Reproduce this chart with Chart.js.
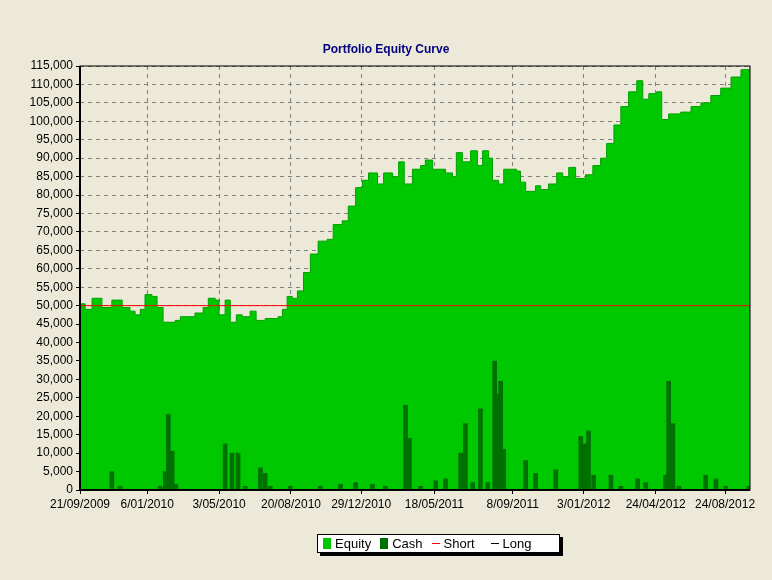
<!DOCTYPE html>
<html><head><meta charset="utf-8">
<script src="https://cdn.jsdelivr.net/npm/chart.js@4"></script>
<style>
body{margin:0;background:#ECE9D8;font-family:"Liberation Sans",Arial,sans-serif;}
#wrap{position:relative;width:772px;height:580px;}
#title{position:absolute;left:0;width:772px;top:42px;text-align:center;color:#000080;font-weight:bold;font-size:12px;}
#legend{position:absolute;left:317px;top:534px;width:241px;height:17px;border:1px solid #000;background:#fff;box-shadow:3px 3px 0 #000;font-size:13px;display:flex;align-items:center;gap:0;}
#legend span{display:inline-flex;align-items:center;margin-left:5px;}
.sw{display:inline-block;width:8px;height:11px;margin-right:4px;}
.ln{display:inline-block;width:8px;height:1px;margin-right:4px;}
</style></head><body>
<div id="wrap"><div id="title">Portfolio Equity Curve</div>
<canvas id="c" width="772" height="580"></canvas>
<div id="legend"><span><i class="sw" style="background:#00C800"></i>Equity</span><span style="margin-left:9px"><i class="sw" style="background:#007000"></i>Cash</span><span style="margin-left:9px"><i class="ln" style="background:#ff0000"></i>Short</span><span style="margin-left:16px"><i class="ln" style="background:#000"></i>Long</span></div>
</div>
<script>
const tickWeeks=[0,15.6,32.3,49,65.3,82.3,100.5,117,133.7,149.8];
const tickLabels=["21/09/2009","6/01/2010","3/05/2010","20/08/2010","29/12/2010","18/05/2011","8/09/2011","3/01/2012","24/04/2012","24/08/2012"];
const eqWeeks=[0,1.2,2.8,4.2,5.1,6.5,7.4,8.8,9.8,11.6,12.8,14,15.1,16.7,17.9,19.3,22.1,23.3,26.7,28.6,29.8,31.4,32.3,33.7,34.9,36.3,37.7,39.5,40.9,43,46,47,48.1,49.3,50.5,51.9,53.5,55.3,57.4,58.8,60.9,62.3,64,65.6,67,68.4,69.1,70.5,72.6,74,75.3,77.2,79.1,80.2,81.9,84.9,86.5,87.4,88.8,90.7,92.3,93.5,94.9,95.8,97.2,98.4,101.4,102.3,103.5,105.8,107,108.8,110.7,112.1,113.5,115.1,117.4,119.1,120.9,122.3,124,125.6,127.4,129.3,130.7,132.1,133.9,135.1,136.7,139.5,141.9,144.2,146.5,148.8,151.2,153.5,155.6];
const eqValues=[50500,49000,52000,52000,49500,49500,51500,51500,49500,48500,47500,49000,53000,52500,49500,45500,46000,47000,48000,49500,52000,51500,47500,51500,45500,47500,47000,48500,46000,46500,47000,49000,52500,52000,54000,59000,64000,67500,68000,72000,73000,77000,82000,84000,86000,86000,83000,86000,85000,89000,83000,87000,88000,89500,87000,86000,85000,91500,89000,92000,88000,92000,90000,84000,83000,87000,86500,83500,81000,82500,81500,83000,86000,85000,87500,84500,85500,88000,90000,94000,99000,104000,108000,111000,106000,107500,108000,100500,102000,102500,104000,105000,107000,109000,112000,114000,115500];
const cashWeeks=[7.4,9.3,18.6,19.8,20.5,21.4,22.3,33.7,35.3,36.7,38.4,41.9,43,44.2,48.8,55.8,60.5,64,67.9,70.9,75.6,76.5,79.1,82.6,84.9,88.4,89.5,91.2,93,94.7,96.3,97,97.7,98.4,103.5,105.8,110.5,116.3,117.2,118.1,119.3,123.3,125.6,129.5,131.4,136.0,136.7,137.7,139.1,145.3,147.7,150,155.3];
const cashValues=[5000,1000,1000,5000,20500,10500,1500,12500,10000,10000,1000,6000,4500,1000,1000,1000,1500,2000,1500,1000,23000,14000,1000,2500,3000,10000,18000,2000,22000,2000,35000,26000,29500,11000,8000,4500,5500,14500,12500,16000,4000,4000,1000,3000,2000,4000,29500,18000,1000,4000,3000,1000,1000];
const shortLevel=50000;
const xMax=155.6;

const frame={id:'frame',afterDatasetsDraw(ch){const a=ch.chartArea,c=ch.ctx;c.save();c.strokeStyle='#000';c.lineWidth=1;c.strokeRect(a.left,a.top,a.right-a.left,a.bottom-a.top);c.lineWidth=2;c.beginPath();c.moveTo(a.left,a.top);c.lineTo(a.left,a.bottom);c.lineTo(a.right,a.bottom);c.stroke();c.restore();}};
new Chart(document.getElementById('c'),{
 data:{datasets:[
  {type:'line',label:'Short',data:[{x:0,y:shortLevel},{x:xMax,y:shortLevel}],borderColor:'#ff0000',borderWidth:1,pointRadius:0,order:0},
  {type:'bar',label:'Cash',data:cashWeeks.map((w,i)=>({x:w,y:cashValues[i]})),backgroundColor:'#007000',barThickness:4,order:1},
  {type:'line',label:'Equity',data:eqWeeks.map((w,i)=>({x:w,y:eqValues[i]})),stepped:true,fill:'origin',backgroundColor:'#00C800',borderColor:'#00A000',borderWidth:1,pointRadius:0,order:2}
 ]},
 options:{responsive:false,animation:false,
  layout:{padding:{left:0,right:22,top:66,bottom:60}},
  plugins:{legend:{display:false},tooltip:{enabled:false}},
  scales:{
   x:{type:'linear',min:0,max:xMax,offset:false,
    afterBuildTicks(s){s.ticks=tickWeeks.map(v=>({value:v}));},
    afterFit(s){s.height=30;},
    ticks:{autoSkip:false,maxRotation:0,color:'#000',font:{family:'Liberation Sans',size:12},callback:(v,i)=>tickLabels[i]},
    grid:{offset:false,color:'#808080',tickLength:4,tickColor:'#000'},border:{display:false,dash:[4,4]}},
   y:{min:0,max:115000,
    afterFit(s){s.width=80;},
    ticks:{stepSize:5000,color:'#000',font:{family:'Liberation Sans',size:12},callback:v=>v.toLocaleString('en-US')},
    grid:{color:'#808080',tickLength:4,tickColor:'#000'},border:{display:false,dash:[4,4]}}
  }},
 plugins:[frame]
});
</script></body></html>
